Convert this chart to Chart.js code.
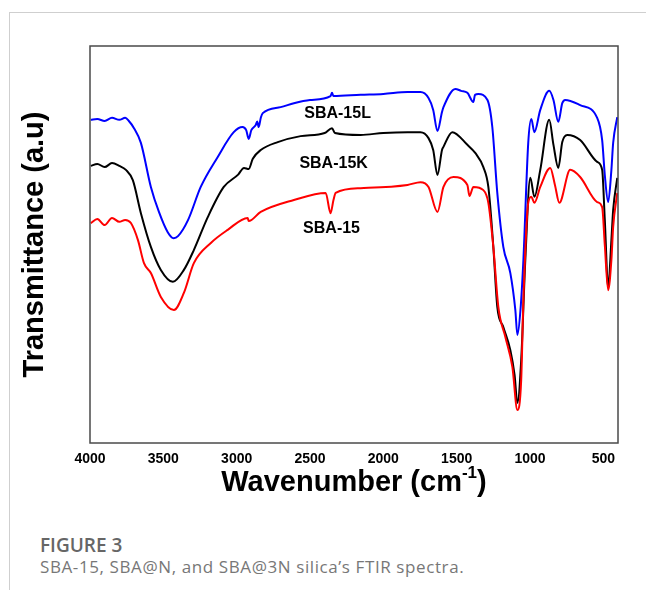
<!DOCTYPE html>
<html>
<head>
<meta charset="utf-8">
<script src="https://cdn.jsdelivr.net/npm/chart.js@4.4.1/dist/chart.umd.min.js"></script>
<style>
  html, body { margin: 0; padding: 0; background: #fff; }
  body { width: 646px; height: 590px; position: relative; overflow: hidden; }
  #frame { position: absolute; left: 9px; top: 12px; right: 0; bottom: 0;
           border-left: 1px solid #cfcfcf; border-top: 1px solid #cfcfcf; }
  #chart { position: absolute; left: 0; top: 0; }
  .cap { position: absolute; left: 40px; font-family: "Open Sans", sans-serif; line-height: 22px; white-space: nowrap; }
  #fig { top: 534px; font-size: 19px; font-weight: 600; color: #666; }
  #desc { top: 556px; font-size: 17px; letter-spacing: 0.6px; color: #777; }
</style>
</head>
<body>
<div id="frame"></div>
<canvas id="chart" width="646" height="520"></canvas>
<div class="cap" id="fig">FIGURE 3</div>
<div class="cap" id="desc">SBA-15, SBA@N, and SBA@3N silica’s FTIR spectra.</div>

<script>
// tick labels on the wavenumber axis
const xTicks = [4000, 3500, 3000, 2500, 2000, 1500, 1000, 500];

// SBA-15L (blue)
const wnL = [3995, 3950, 3900, 3850, 3800, 3760, 3735, 3700, 3653, 3585, 3530, 3470, 3430, 3400, 3331, 3245, 3130, 3020, 2960, 2935, 2918, 2900, 2870, 2860, 2850, 2835, 2822, 2700, 2610, 2500, 2360, 2350, 2340, 2155, 2000, 1835, 1747, 1692, 1660, 1631, 1600, 1590, 1509, 1470, 1427, 1386, 1375, 1352, 1290, 1257, 1223, 1182, 1134, 1100, 1086, 1065, 1045, 1012, 991, 970, 930, 869, 840, 807, 780, 760, 658, 542, 508, 490, 467, 445, 433, 405];
const tL = [81.4, 81.6, 81.1, 81.9, 81.4, 81.9, 81.1, 79.3, 75.6, 64.5, 58.2, 53.1, 51.6, 52.1, 56.2, 64.5, 72.0, 78.3, 79.6, 78.8, 76.6, 78.8, 80.1, 81.0, 79.6, 82.0, 83.1, 84.6, 85.6, 86.4, 87.4, 88.2, 87.4, 87.7, 87.9, 88.4, 88.4, 86.9, 83.9, 78.6, 83.4, 84.6, 89.2, 88.7, 88.2, 85.9, 87.7, 87.9, 86.4, 79.6, 63.0, 49.4, 42.8, 33.5, 27.2, 33.5, 46.1, 75.6, 81.6, 78.3, 83.9, 88.7, 86.4, 80.9, 85.6, 86.4, 85.1, 81.9, 76.3, 67.5, 60.7, 68.8, 75.6, 82.1];

// SBA-15K (black)
const wnK = [3995, 3950, 3900, 3850, 3800, 3755, 3708, 3653, 3585, 3517, 3435, 3360, 3292, 3197, 3088, 2990, 2950, 2918, 2890, 2836, 2720, 2564, 2400, 2350, 2330, 2155, 2000, 1835, 1747, 1692, 1660, 1631, 1600, 1590, 1530, 1427, 1372, 1318, 1284, 1250, 1223, 1182, 1134, 1105, 1086, 1060, 1032, 998, 970, 930, 869, 840, 807, 780, 746, 658, 542, 508, 490, 467, 445, 433, 405];
const tK = [69.8, 70.3, 69.5, 70.5, 69.8, 68.8, 66.2, 57.9, 49.4, 43.6, 40.6, 43.6, 48.6, 56.9, 64.5, 67.6, 69.3, 69.0, 71.6, 73.8, 75.8, 77.3, 78.1, 79.3, 78.1, 77.6, 78.1, 78.3, 78.3, 76.8, 73.8, 67.5, 73.8, 74.6, 78.3, 75.1, 73.0, 69.5, 64.5, 49.4, 34.3, 29.2, 23.4, 17.1, 10.1, 20.9, 46.1, 66.8, 62.0, 68.8, 81.4, 75.1, 69.3, 75.8, 77.6, 76.3, 70.8, 68.8, 56.2, 39.3, 51.1, 58.7, 66.8];

// SBA-15 (red)
const wnS = [3995, 3950, 3900, 3850, 3800, 3760, 3721, 3673, 3632, 3585, 3517, 3428, 3360, 3292, 3176, 3061, 2925, 2918, 2836, 2610, 2393, 2360, 2340, 2325, 2155, 1835, 1747, 1692, 1631, 1590, 1522, 1427, 1413, 1386, 1318, 1284, 1250, 1216, 1168, 1120, 1086, 1060, 1045, 1012, 991, 970, 930, 862, 830, 800, 726, 658, 542, 508, 490, 467, 445, 433, 405];
const tS = [55.4, 56.4, 54.9, 56.7, 55.7, 56.2, 55.4, 51.1, 45.3, 42.8, 36.8, 33.5, 37.8, 45.3, 50.4, 53.7, 56.7, 55.9, 58.2, 61.2, 63.0, 57.9, 61.2, 63.0, 64.2, 65.0, 65.7, 64.5, 58.2, 64.5, 67.0, 65.0, 62.2, 64.5, 63.7, 60.5, 49.4, 34.3, 26.7, 19.1, 8.3, 15.9, 36.0, 60.5, 62.0, 60.5, 64.5, 69.3, 65.0, 60.5, 68.8, 67.0, 60.7, 59.4, 49.9, 38.5, 46.1, 54.4, 63.0];

// label text and where it sits (wavenumber, transmittance)
const seriesNames = ['SBA-15L', 'SBA-15K', 'SBA-15'];
const labelWn = [2312, 2339, 2353];
const labelT = [82.9, 70.5, 53.9];

const toPoints = (xs, ys) => xs.map((x, i) => ({ x: x, y: ys[i] }));

// frame, axis titles and the in-plot labels
const decor = {
  id: 'decor',
  afterDraw(chart) {
    const { ctx, chartArea: a, scales } = chart;
    ctx.save();
    ctx.strokeStyle = '#4a4a4a';
    ctx.lineWidth = 1.5;
    ctx.strokeRect(a.left, a.top, a.right - a.left, a.bottom - a.top);

    ctx.fillStyle = '#000';
    ctx.textBaseline = 'middle';
    ctx.textAlign = 'center';
    ctx.font = 'bold 16px "Liberation Sans", Arial, sans-serif';
    seriesNames.forEach((name, i) => {
      ctx.fillText(name, scales.x.getPixelForValue(labelWn[i]), scales.y.getPixelForValue(labelT[i]));
    });

    // x title with superscript
    const big = 'bold 29px "Liberation Sans", Arial, sans-serif';
    const small = 'bold 17px "Liberation Sans", Arial, sans-serif';
    const p1 = 'Wavenumber (cm', sup = '-1', p2 = ')';
    ctx.font = big;
    const w1 = ctx.measureText(p1).width, w3 = ctx.measureText(p2).width;
    ctx.font = small;
    const w2 = ctx.measureText(sup).width;
    let x = (a.left + a.right) / 2 - (w1 + w2 + w3) / 2;
    const yT = 483;
    ctx.textAlign = 'left';
    ctx.font = big;
    ctx.fillText(p1, x, yT);
    ctx.font = small;
    ctx.fillText(sup, x + w1, yT - 10);
    ctx.font = big;
    ctx.fillText(p2, x + w1 + w2, yT);

    // y title
    ctx.translate(35, (a.top + a.bottom) / 2);
    ctx.rotate(-Math.PI / 2);
    ctx.textAlign = 'center';
    ctx.font = big;
    ctx.fillText('Transmittance (a.u)', 0, 0);
    ctx.restore();
  }
};

new Chart(document.getElementById('chart'), {
  type: 'line',
  data: {
    datasets: [
      { label: 'SBA-15', data: toPoints(wnS, tS), borderColor: '#ff0000', order: 0 },
      { label: 'SBA-15K', data: toPoints(wnK, tK), borderColor: '#000000', order: 1 },
      { label: 'SBA-15L', data: toPoints(wnL, tL), borderColor: '#0000ff', order: 2 }
    ]
  },
  options: {
    responsive: false,
    animation: false,
    layout: { padding: { left: 90, top: 46, right: 28, bottom: 0 } },
    elements: {
      line: { borderWidth: 2, cubicInterpolationMode: 'monotone' },
      point: { radius: 0 }
    },
    plugins: { legend: { display: false }, tooltip: { enabled: false } },
    scales: {
      x: {
        type: 'linear',
        reverse: true,
        min: 400,
        max: 4000,
        grid: { display: false },
        border: { display: false },
        afterBuildTicks: (scale) => { scale.ticks = xTicks.map(v => ({ value: v })); },
        afterFit: (scale) => { scale.height = 77; },
        ticks: {
          color: '#000',
          padding: 0,
          maxRotation: 0,
          autoSkip: false,
          callback: (v) => String(v),
          font: { family: '"Liberation Sans", Arial, sans-serif', size: 14, weight: 'bold' }
        }
      },
      y: {
        display: false,
        min: 0,
        max: 100
      }
    }
  },
  plugins: [decor]
});
</script>
</body>
</html>
